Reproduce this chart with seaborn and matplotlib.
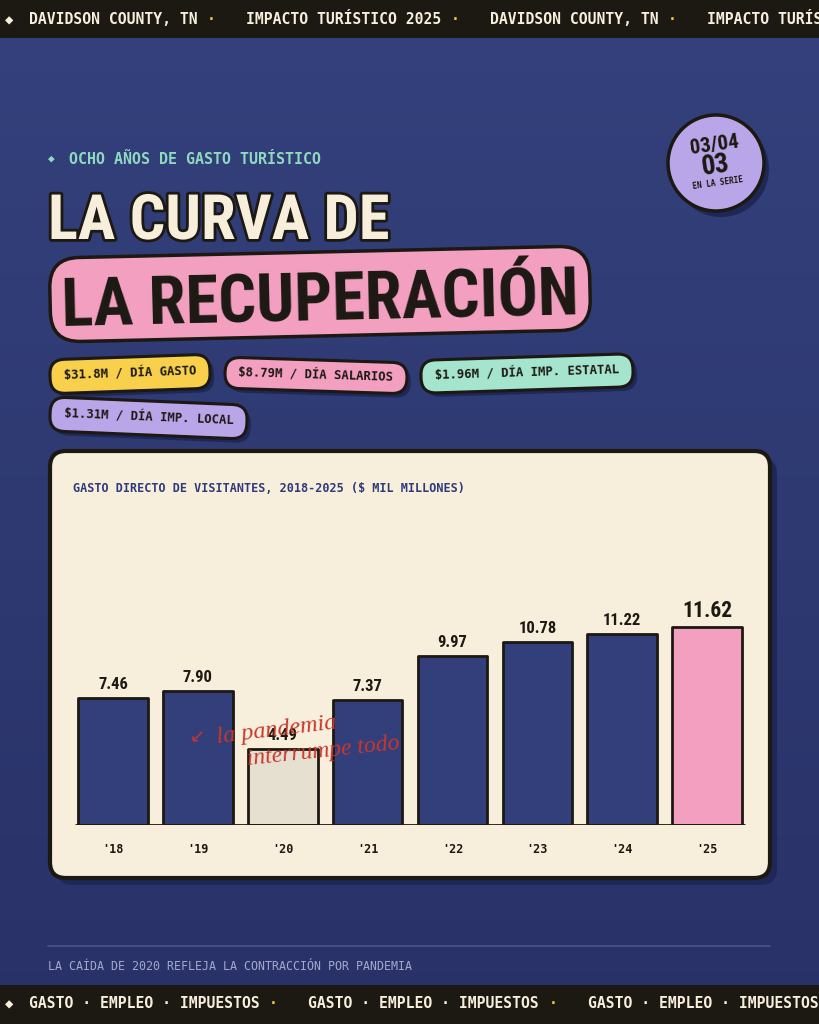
"""Davidson County tourism spend: poster-style bar chart."""

import matplotlib

matplotlib.use("Agg")

import matplotlib.patheffects as pe
import matplotlib.pyplot as plt
import numpy as np
import pandas as pd
import seaborn as sns
from matplotlib import font_manager
from matplotlib.patches import Circle, FancyBboxPatch, Rectangle
from matplotlib.transforms import Affine2D

# ---- data -------------------------------------------------------------
YEAR_LABELS = ["'18", "'19", "'20", "'21", "'22", "'23", "'24", "'25"]
SPEND = [7.46, 7.90, 4.49, 7.37, 9.97, 10.78, 11.22, 11.62]
BAR_COLORS = ["#333f7b", "#333f7b", "#e6e0d0", "#333f7b",
              "#333f7b", "#333f7b", "#333f7b", "#f29fc0"]

STAT_LABELS = ["$31.8M / DÍA GASTO", "$8.79M / DÍA SALARIOS",
               "$1.96M / DÍA IMP. ESTATAL", "$1.31M / DÍA IMP. LOCAL"]
STAT_COLORS = ["#f8d04c", "#f29fc0", "#a6e5cd", "#b8a6e8"]

TOP_TICKER = ["DAVIDSON COUNTY, TN", "IMPACTO TURÍSTICO 2025"]
BOTTOM_TICKER = ["GASTO · EMPLEO · IMPUESTOS"]

# ---- style ------------------------------------------------------------
DARK = "#1c1812"
CREAM = "#f7eedc"
NAVY_TOP = np.array([0x34, 0x41, 0x7c]) / 255
NAVY_BOT = np.array([0x29, 0x32, 0x68]) / 255
SHADOW = "#1f2756"
YELLOW = "#f5c842"
RED = "#c9372c"

sns.set_theme(style="white")
_available = {f.name for f in font_manager.fontManager.ttflist}


def pick(*names):
    for n in names:
        if n in _available:
            return n
    return "DejaVu Sans"


NARROW = pick("Liberation Sans Narrow", "DejaVu Sans Condensed",
              "Roboto Condensed", "Open Sans Condensed", "Roboto")
MONO = pick("DejaVu Sans Mono", "Liberation Mono")
HAND = pick("Liberation Serif", "DejaVu Serif")
plt.rcParams["font.family"] = [MONO, "DejaVu Sans"]

fig = plt.figure(figsize=(8.19, 10.24), dpi=100)

# pixel-coordinate canvas (y grows downward)
bg = fig.add_axes([0, 0, 1, 1], zorder=0)
bg.set_xlim(0, 819)
bg.set_ylim(1024, 0)
bg.axis("off")

grad = np.linspace(0, 1, 256)[:, None, None]
grad_img = NAVY_TOP * (1 - grad) + NAVY_BOT * grad
bg.imshow(np.repeat(grad_img, 2, axis=1), extent=[0, 819, 1024, 0],
          aspect="auto", zorder=0)


def pill(ax, x0, y0, w, h, color, angle, r, lw=2.2, shadow=(4, 4), z=3):
    cx, cy = x0 + w / 2, y0 + h / 2
    rot = Affine2D().rotate_deg_around(cx, cy, angle) + ax.transData
    box = f"round,pad=0,rounding_size={r}"
    if shadow:
        ax.add_patch(FancyBboxPatch((x0 + shadow[0], y0 + shadow[1]), w, h,
                                    boxstyle=box, fc=SHADOW, ec="none",
                                    transform=rot, zorder=z))
    ax.add_patch(FancyBboxPatch((x0, y0), w, h, boxstyle=box, fc=color,
                                ec=DARK, lw=lw, transform=rot, zorder=z + 0.1))
    return cx, cy


# ticker bands
bg.add_patch(Rectangle((0, 0), 819, 38, fc=DARK, ec="none", zorder=2))
bg.add_patch(Rectangle((0, 985), 819, 39, fc=DARK, ec="none", zorder=2))


def ticker(y, phrases):
    adv = 8.9
    bg.text(5, y, "◆", color=CREAM, fontsize=10, va="center",
            family=[MONO, "DejaVu Sans"], zorder=3)
    x = 29
    i = 0
    while x < 819:
        p = phrases[i % len(phrases)]
        bg.text(x, y, p, color=CREAM, fontsize=10.6, fontweight="bold",
                va="center", ha="left", family=MONO, zorder=3)
        x += len(p) * adv + 13
        bg.text(x, y, "·", color=YELLOW, fontsize=10.6, fontweight="bold",
                va="center", ha="center", family=MONO, zorder=3)
        x += 35
        i += 1


ticker(20, TOP_TICKER)
ticker(1004, BOTTOM_TICKER)

# header
bg.text(48, 159, "◆", color="#8fd9c0", fontsize=8, va="center",
        family=[MONO, "DejaVu Sans"], zorder=3)
bg.text(69, 159, "OCHO AÑOS DE GASTO TURÍSTICO", color="#8fd9c0",
        fontsize=10.8, fontweight="bold", va="center", family=MONO, zorder=3)

bg.text(48, 239, "LA CURVA DE", color=CREAM, fontsize=45, fontweight="bold",
        family=NARROW, va="baseline", ha="left", zorder=4,
        path_effects=[pe.withStroke(linewidth=4, foreground=DARK)])

cx, cy = pill(bg, 50, 252, 540, 84, "#f29fc0", -1.3, 30, lw=2.5,
              shadow=None, z=3)
bg.text(62, 326, "LA RECUPERACIÓN", color=DARK, fontsize=48,
        fontweight="bold", family=NARROW, va="baseline", ha="left",
        rotation=1.3, rotation_mode="anchor", zorder=4)

# stat pills
pill_specs = [(50, 357, 160, 34, -2.0), (225, 360, 182, 31, 1.8),
              (421, 357, 212, 33, -1.8), (50, 401, 197, 34, 2.4)]
for label, color, (x0, y0, w, h, ang) in zip(STAT_LABELS, STAT_COLORS, pill_specs):
    px, py = pill(bg, x0, y0, w, h, color, ang, 15)
    bg.text(px, py, label, color=DARK, fontsize=8.8, fontweight="bold",
            family=MONO, ha="center", va="center", rotation=-ang,
            rotation_mode="anchor", zorder=4)

# series badge
bg.add_patch(Circle((721, 169), 48, fc=SHADOW, ec="none", zorder=3))
bg.add_patch(Circle((716, 163), 48, fc="#b8a6e8", ec=DARK, lw=2.5, zorder=3.1))
bg.text(714, 145, "03/04", color=DARK, fontsize=15, fontweight="bold",
        family=NARROW, ha="center", va="center", rotation=8, zorder=4)
bg.text(716, 166, "03", color=DARK, fontsize=20, fontweight="bold",
        family=NARROW, ha="center", va="center", rotation=8, zorder=4)
bg.text(718, 183, "EN LA SERIE", color=DARK, fontsize=5.6, fontweight="bold",
        family=MONO, ha="center", va="center", rotation=8, zorder=4)

# chart card
box = "round,pad=0,rounding_size=16"
bg.add_patch(FancyBboxPatch((57, 458), 720, 427, boxstyle=box, fc=SHADOW,
                            ec="none", zorder=3))
bg.add_patch(FancyBboxPatch((50, 451), 720, 427, boxstyle=box, fc=CREAM,
                            ec=DARK, lw=3, zorder=3.1))
bg.text(73, 488, "GASTO DIRECTO DE VISITANTES, 2018-2025 ($ MIL MILLONES)",
        color="#2e3a7a", fontsize=8.5, fontweight="bold", family=MONO,
        va="center", zorder=4)

# footer
bg.plot([48, 770], [946, 946], color="#4a5590", lw=1.2, zorder=3)
bg.text(48, 966, "LA CAÍDA DE 2020 REFLEJA LA CONTRACCIÓN POR PANDEMIA",
        color="#a3a8cc", fontsize=8.4, family=MONO, va="center", zorder=3)

# ---- bar chart ---------------------------------------------------------
df = pd.DataFrame({"year": YEAR_LABELS, "spend": SPEND})
ax = fig.add_axes([70.6 / 819, 1 - 825 / 1024, 679 / 819, 306 / 1024], zorder=5)
ax.set_facecolor("none")
sns.barplot(data=df, x="year", y="spend", hue="year",
            palette=dict(zip(YEAR_LABELS, BAR_COLORS)), legend=False,
            width=0.82, edgecolor=DARK, linewidth=2, saturation=1, ax=ax)
for bar in ax.patches:
    bar.set_joinstyle("round")
ax.hlines(0, -0.45, 7.45, color=DARK, lw=2, zorder=4)
ax.set_xlim(-0.5, 7.5)
ax.set_ylim(0, 18)
for i, v in enumerate(SPEND):
    big = i == len(SPEND) - 1
    ax.text(i, v + 0.35, f"{v:.2f}", ha="center", va="bottom",
            fontsize=15.5 if big else 12, fontweight="bold", family=NARROW,
            color=DARK)
sns.despine(ax=ax, left=True, bottom=True)
ax.set_xlabel("")
ax.set_ylabel("")
ax.set_yticks([])
ax.tick_params(axis="x", length=0, pad=13)
for lbl in ax.get_xticklabels():
    lbl.set_family(MONO)
    lbl.set_fontweight("bold")
    lbl.set_fontsize(8.5)
    lbl.set_color(DARK)

# handwritten note on top
fg = fig.add_axes([0, 0, 1, 1], zorder=10)
fg.set_xlim(0, 819)
fg.set_ylim(1024, 0)
fg.axis("off")
fg.text(189, 743, "↙", color=RED, fontsize=13, family=["DejaVu Sans"],
        ha="left", va="baseline")
fg.text(217, 743, "la pandemia", color=RED, fontsize=17.5, style="italic",
        family=[HAND, "DejaVu Sans"], ha="left", va="baseline",
        rotation=7, rotation_mode="anchor")
fg.text(247, 765, "interrumpe todo", color=RED, fontsize=17, style="italic",
        family=[HAND, "DejaVu Sans"], ha="left", va="baseline",
        rotation=6, rotation_mode="anchor")

fig.savefig("out.png", dpi=100)
plt.close(fig)
